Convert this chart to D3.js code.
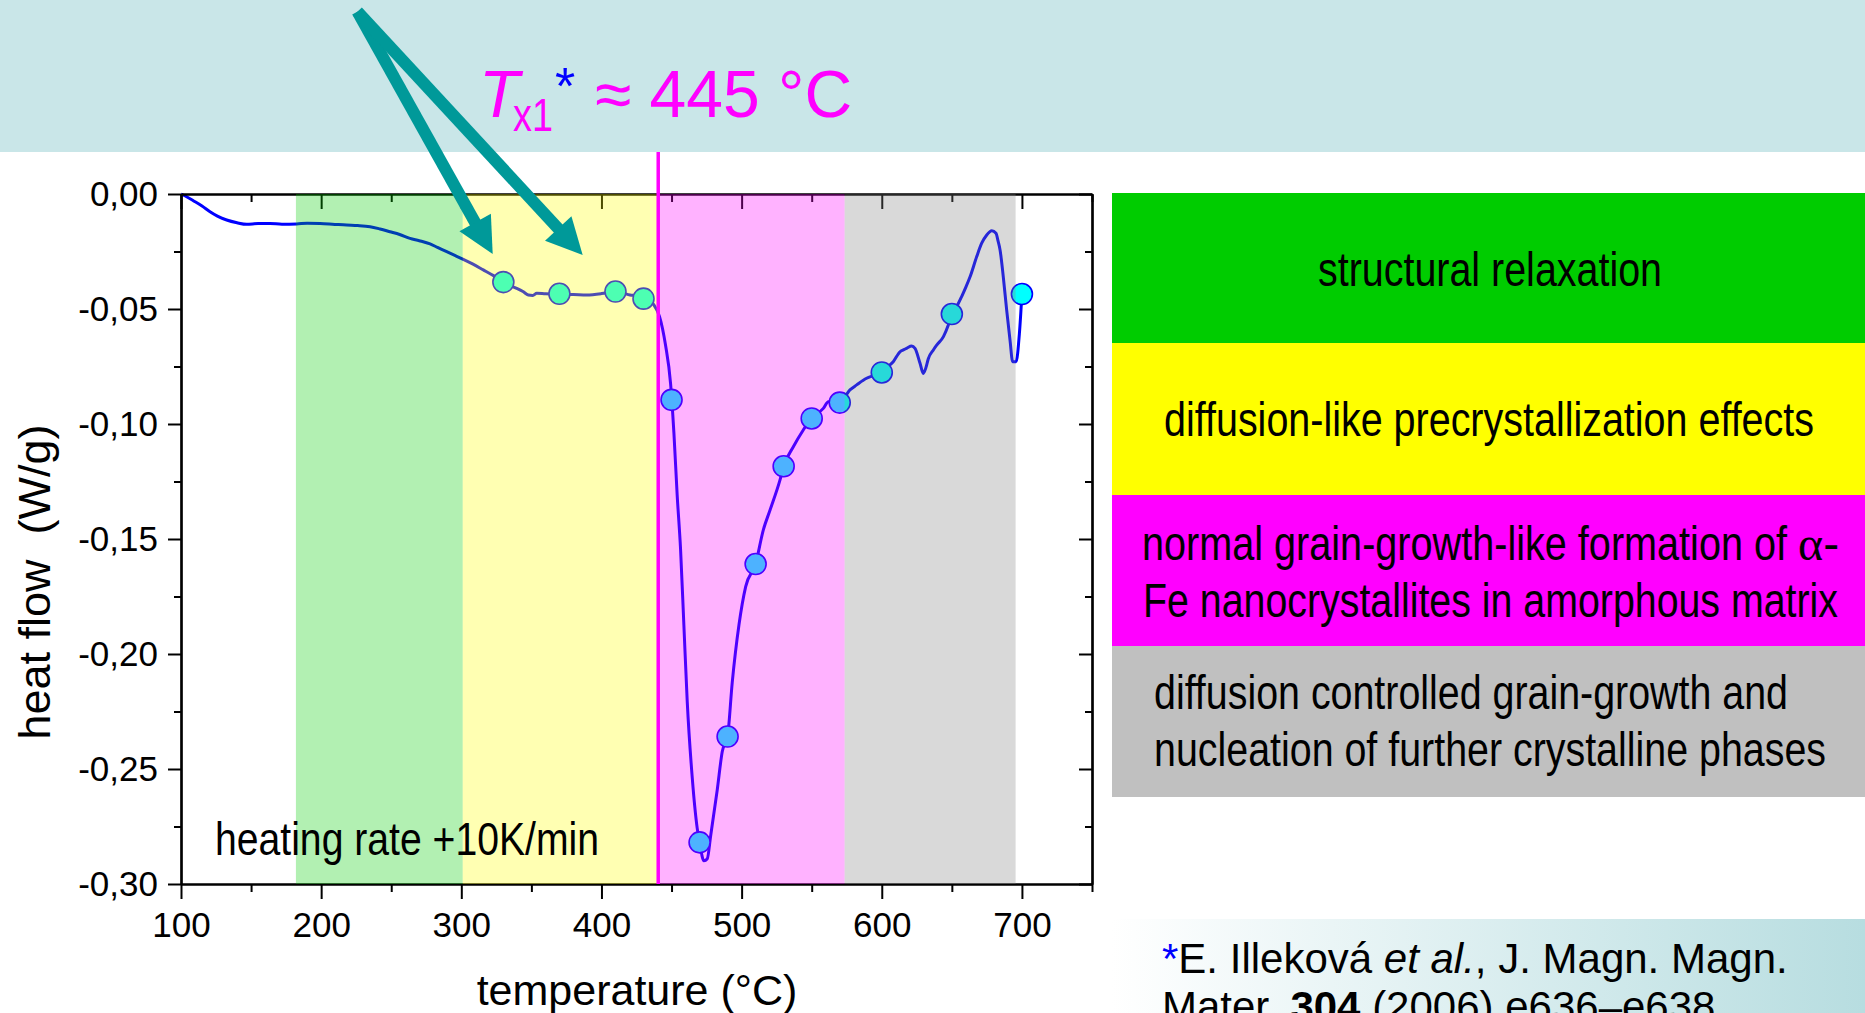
<!DOCTYPE html>
<html>
<head>
<meta charset="utf-8">
<script src="https://cdn.jsdelivr.net/npm/d3@7"></script>
<style>
  html, body { margin: 0; padding: 0; background: #fff; overflow: hidden; }
  svg { display: block; font-family: "Liberation Sans", Arial, sans-serif; }
</style>
</head>
<body>
<div id="container"></div>
<script>
// DSC trace: temperature (°C) and heat flow (W/g)
const temperature = [100, 104, 108.8, 115, 120.7, 126, 132.6, 140, 146.9, 155, 163.5, 172, 182.5, 190, 199.2, 208, 218.2, 226, 234.9, 242, 249.1, 256, 263.4, 270, 277.7, 283, 289.6, 295, 301.4, 308, 315.7, 323, 330, 335, 339.5, 344, 347.8, 351, 353.8, 360, 370, 380, 389.5, 400, 410, 416, 420.4, 425, 430, 435, 437.4, 441.4, 445.7, 449.3, 451.7, 454, 456.4, 458.8, 461.2, 464.8, 468.3, 470, 473.1, 475.5, 477.9, 482.6, 486.2, 490, 493.3, 498.1, 502.9, 510, 515.5, 520.3, 527.4, 530, 536.9, 544, 550, 558.3, 561.9, 570, 577.3, 582.1, 589.2, 595, 600, 604, 608.2, 613, 615.4, 618, 621.3, 623.7, 627.3, 629.6, 631.5, 633.2, 636.8, 639.2, 644, 647.5, 650, 653, 657, 660, 663, 667.7, 671.3, 674.9, 678.5, 681.5, 683, 684.4, 686.7, 689.1, 691.5, 693.4, 695.8, 698.2, 700];
const heatFlow = [0, -0.0012, -0.0029, -0.0052, -0.0077, -0.0096, -0.0113, -0.0125, -0.0132, -0.0128, -0.0128, -0.0131, -0.013, -0.0127, -0.0128, -0.0131, -0.0135, -0.0137, -0.0142, -0.0152, -0.0164, -0.0176, -0.0193, -0.0203, -0.0217, -0.0232, -0.0251, -0.0266, -0.0284, -0.0304, -0.033, -0.0355, -0.0381, -0.0398, -0.041, -0.0424, -0.0439, -0.0441, -0.0432, -0.0434, -0.0436, -0.0437, -0.0439, -0.0433, -0.0422, -0.0432, -0.0439, -0.0443, -0.0454, -0.0466, -0.0482, -0.0532, -0.0657, -0.0823, -0.104, -0.1307, -0.154, -0.1874, -0.2207, -0.254, -0.2757, -0.2819, -0.2899, -0.289, -0.2791, -0.2591, -0.2424, -0.2357, -0.2124, -0.1874, -0.1707, -0.1607, -0.146, -0.1374, -0.1243, -0.1184, -0.1099, -0.1026, -0.0974, -0.0932, -0.0903, -0.0907, -0.0852, -0.083, -0.0801, -0.0788, -0.0774, -0.0752, -0.0729, -0.0686, -0.0678, -0.067, -0.0661, -0.0671, -0.0736, -0.078, -0.0755, -0.0716, -0.0678, -0.0657, -0.062, -0.057, -0.0522, -0.0495, -0.0446, -0.0405, -0.036, -0.0273, -0.0214, -0.0178, -0.016, -0.0171, -0.0205, -0.0243, -0.036, -0.0504, -0.0635, -0.0729, -0.0729, -0.0606, -0.0435];

// annealing temperatures marked on the curve
const markerTemp = [330, 370, 410, 430, 450, 470, 490, 510, 530, 550, 570, 600, 650, 700];
const markerFlow = [-0.0383, -0.0434, -0.0424, -0.0455, -0.0895, -0.2819, -0.2359, -0.1609, -0.1184, -0.0976, -0.0907, -0.0776, -0.0522, -0.0435];

const xTicks = [100, 200, 300, 400, 500, 600, 700];
const xMinor = [150, 250, 350, 450, 550, 650, 750];
const yTicks = [0, -0.05, -0.10, -0.15, -0.20, -0.25, -0.30];
const yMinor = [-0.025, -0.075, -0.125, -0.175, -0.225, -0.275];

// stages (°C ranges) and their descriptions
const stageFrom = [182, 301, 440.5, 573.5];
const stageTo = [301, 440.5, 573.5, 695.5];
const stageText = [
  ["structural relaxation"],
  ["diffusion-like precrystallization effects"],
  ["normal grain-growth-like formation of ", "Fe nanocrystallites in amorphous matrix"],
  ["diffusion controlled grain-growth and", "nucleation of further crystalline phases"]
];
const stageColor = ["#00cc00", "#ffff00", "#ff00ff", "#808080"];
const boxColor = ["#00cc00", "#ffff00", "#ff00ff", "#c0c0c0"];

const tx1 = 440.5;
// arrow annotation, in data units: common start and two tips
const arrowStart = [225.9, 0.0793];
const arrowTips = [[322.4, -0.0261], [386.6, -0.0265]];

const width = 1865, height = 1013;
const marginLeft = 181, plotRight = 1092, marginTop = 194, plotBottom = 884;

const x = d3.scaleLinear().domain([100, 750]).range([marginLeft, plotRight]);
const y = d3.scaleLinear().domain([-0.30, 0]).range([plotBottom, marginTop]);

const svg = d3.select("#container").append("svg")
  .attr("width", width).attr("height", height)
  .attr("viewBox", [0, 0, width, height]);

// header band
svg.append("rect").attr("x", 0).attr("y", 0).attr("width", width).attr("height", 152)
  .attr("fill", "#c9e6e8");

// citation band with gradient
const grad = svg.append("defs").append("linearGradient").attr("id", "cite");
grad.append("stop").attr("offset", "0%").attr("stop-color", "#ffffff");
grad.append("stop").attr("offset", "100%").attr("stop-color", "#b7dde0");
svg.append("rect").attr("x", 1112).attr("y", 919).attr("width", width - 1112).attr("height", height - 919)
  .attr("fill", "url(#cite)");

// curve
const data = temperature.map((t, i) => ({t, q: heatFlow[i]}));
const line = d3.line().x(d => x(d.t)).y(d => y(d.q)).curve(d3.curveMonotoneX);

svg.append("path").datum(data)
  .attr("fill", "none").attr("stroke", "#0000ff").attr("stroke-width", 3)
  .attr("stroke-linejoin", "round").attr("d", line);

svg.append("g").selectAll("circle")
  .data(markerTemp)
  .join("circle")
  .attr("cx", d => x(d))
  .attr("cy", (d, i) => y(markerFlow[i]))
  .attr("r", 10.5)
  .attr("fill", "#00ffff").attr("stroke", "#0000ff").attr("stroke-width", 1.6);

// axes
const fmt = d => d.toFixed(2).replace("-0.00", "0.00").replace(".", ",");
function styleAxis(g) {
  g.select(".domain").attr("stroke-width", 2.2);
  g.selectAll(".tick line").attr("stroke-width", 2);
  g.selectAll(".tick text").attr("font-size", 35).attr("font-family", "Liberation Sans, Arial, sans-serif").attr("fill", "#000");
}
svg.append("g").attr("transform", `translate(0,${plotBottom})`)
  .call(d3.axisBottom(x).tickValues(xTicks).tickSize(15).tickSizeOuter(0).tickPadding(13).tickFormat(d3.format("d")))
  .call(styleAxis);
svg.append("g").attr("transform", `translate(0,${plotBottom})`)
  .call(d3.axisBottom(x).tickValues(xMinor).tickSize(8).tickSizeOuter(0).tickFormat(""))
  .call(styleAxis);
svg.append("g").attr("transform", `translate(0,${marginTop})`)
  .call(d3.axisTop(x).tickValues(xTicks).tickSize(-15).tickSizeOuter(0).tickFormat(""))
  .call(styleAxis);
svg.append("g").attr("transform", `translate(0,${marginTop})`)
  .call(d3.axisTop(x).tickValues(xMinor).tickSize(-8).tickSizeOuter(0).tickFormat(""))
  .call(styleAxis);
svg.append("g").attr("transform", `translate(${marginLeft},0)`)
  .call(d3.axisLeft(y).tickValues(yTicks).tickSize(13).tickSizeOuter(0).tickPadding(10).tickFormat(fmt))
  .call(styleAxis);
svg.append("g").attr("transform", `translate(${marginLeft},0)`)
  .call(d3.axisLeft(y).tickValues(yMinor).tickSize(7).tickSizeOuter(0).tickFormat(""))
  .call(styleAxis);
svg.append("g").attr("transform", `translate(${plotRight},0)`)
  .call(d3.axisRight(y).tickValues(yTicks).tickSize(-13).tickSizeOuter(0).tickFormat(""))
  .call(styleAxis);
svg.append("g").attr("transform", `translate(${plotRight},0)`)
  .call(d3.axisRight(y).tickValues(yMinor).tickSize(-7).tickSizeOuter(0).tickFormat(""))
  .call(styleAxis);

// translucent stage bands on top of the plot
svg.append("g").selectAll("rect")
  .data(stageFrom)
  .join("rect")
  .attr("x", d => x(d))
  .attr("width", (d, i) => x(stageTo[i]) - x(d))
  .attr("y", y(0)).attr("height", y(-0.30) - y(0))
  .attr("fill", (d, i) => stageColor[i]).attr("fill-opacity", 0.3);

// Tx1 line
svg.append("line")
  .attr("x1", x(tx1)).attr("x2", x(tx1))
  .attr("y1", 152).attr("y2", y(-0.30))
  .attr("stroke", "#ff00ff").attr("stroke-width", 3.5);

// arrows
const arrows = svg.append("g").attr("fill", "#009999").attr("stroke", "#009999");
arrowTips.forEach(tip => {
  const p0 = [x(arrowStart[0]), y(arrowStart[1])];
  const p1 = [x(tip[0]), y(tip[1])];
  const dx = p1[0] - p0[0], dy = p1[1] - p0[1], len = Math.hypot(dx, dy);
  const ux = dx / len, uy = dy / len, headLen = 36, half = 18;
  const bx = p1[0] - ux * headLen, by = p1[1] - uy * headLen;
  arrows.append("line")
    .attr("x1", p0[0]).attr("y1", p0[1]).attr("x2", bx + ux * 4).attr("y2", by + uy * 4)
    .attr("stroke-width", 12);
  arrows.append("path")
    .attr("stroke", "none")
    .attr("d", `M${p1[0]},${p1[1]}L${bx - uy * half},${by + ux * half}L${bx + uy * half},${by - ux * half}Z`);
});

// title
const title = svg.append("text").attr("y", 117).attr("fill", "#ff00ff").attr("font-size", 66);
title.append("tspan").attr("x", 479).attr("font-style", "italic").text("T");
title.append("tspan").attr("x", 513).attr("dy", 14).attr("font-size", 46)
  .attr("textLength", 40).attr("lengthAdjust", "spacingAndGlyphs").text("x1");
title.append("tspan").attr("x", 555).attr("dy", -27).attr("font-size", 52).attr("fill", "#0000ff").text("*");
title.append("tspan").attr("x", 595).attr("dy", 13).text("\u2248 445 \u00b0C");

// axis titles
svg.append("text")
  .attr("transform", "translate(50,582) rotate(-90)")
  .attr("text-anchor", "middle").attr("font-size", 45)
  .style("white-space", "pre")
  .text("heat flow  (W/g)");
svg.append("text")
  .attr("x", 637).attr("y", 1005)
  .attr("text-anchor", "middle").attr("font-size", 43)
  .text("temperature (\u00b0C)");

const narrow = "'Liberation Sans Narrow', 'Arial Narrow', 'Liberation Sans', sans-serif";
svg.append("text")
  .attr("x", 215).attr("y", 855).attr("font-size", 47)
  .attr("font-family", narrow)
  .attr("textLength", 384).attr("lengthAdjust", "spacingAndGlyphs")
  .text("heating rate +10K/min");

// stage legend boxes
const boxTop = [193, 343, 495, 646, 797];
const boxLines = [
  [{x: 1490, y: 286, w: 344, a: "middle"}],
  [{x: 1489, y: 436, w: 650, a: "middle"}],
  [{x: 1142, y: 560, w: 656, a: "start"}, {x: 1143, y: 617, w: 695, a: "start"}],
  [{x: 1154, y: 709, w: 634, a: "start"}, {x: 1154, y: 766, w: 672, a: "start"}]
];
stageText.forEach((lines, i) => {
  svg.append("rect")
    .attr("x", 1112).attr("y", boxTop[i])
    .attr("width", width - 1112).attr("height", boxTop[i + 1] - boxTop[i])
    .attr("fill", boxColor[i]);
  lines.forEach((s, j) => {
    const p = boxLines[i][j];
    const t = svg.append("text")
      .attr("x", p.x).attr("y", p.y)
      .attr("text-anchor", p.a)
      .attr("font-size", 48).attr("font-family", narrow);
    t.append("tspan")
      .attr("textLength", p.w).attr("lengthAdjust", "spacingAndGlyphs")
      .text(s);
    // alpha in a symbol-like serif face
    if (i === 2 && j === 0) {
      t.append("tspan").attr("font-family", "'Liberation Serif', serif").text("\u03b1");
      t.append("tspan").text("-");
    }
  });
});

// reference
const cite = svg.append("text").attr("font-size", 42).attr("fill", "#000");
const l1 = cite.append("tspan").attr("x", 1162).attr("y", 973);
l1.append("tspan").attr("fill", "#0000ff").text("*");
l1.append("tspan").text("E. Illekov\u00e1 ");
l1.append("tspan").attr("font-style", "italic").text("et al.");
l1.append("tspan").text(", J. Magn. Magn.");
const l2 = cite.append("tspan").attr("x", 1162).attr("y", 1021);
l2.append("tspan").text("Mater. ");
l2.append("tspan").attr("font-weight", "bold").text("304");
l2.append("tspan").text(" (2006) e636\u2013e638");
</script>
</body>
</html>
